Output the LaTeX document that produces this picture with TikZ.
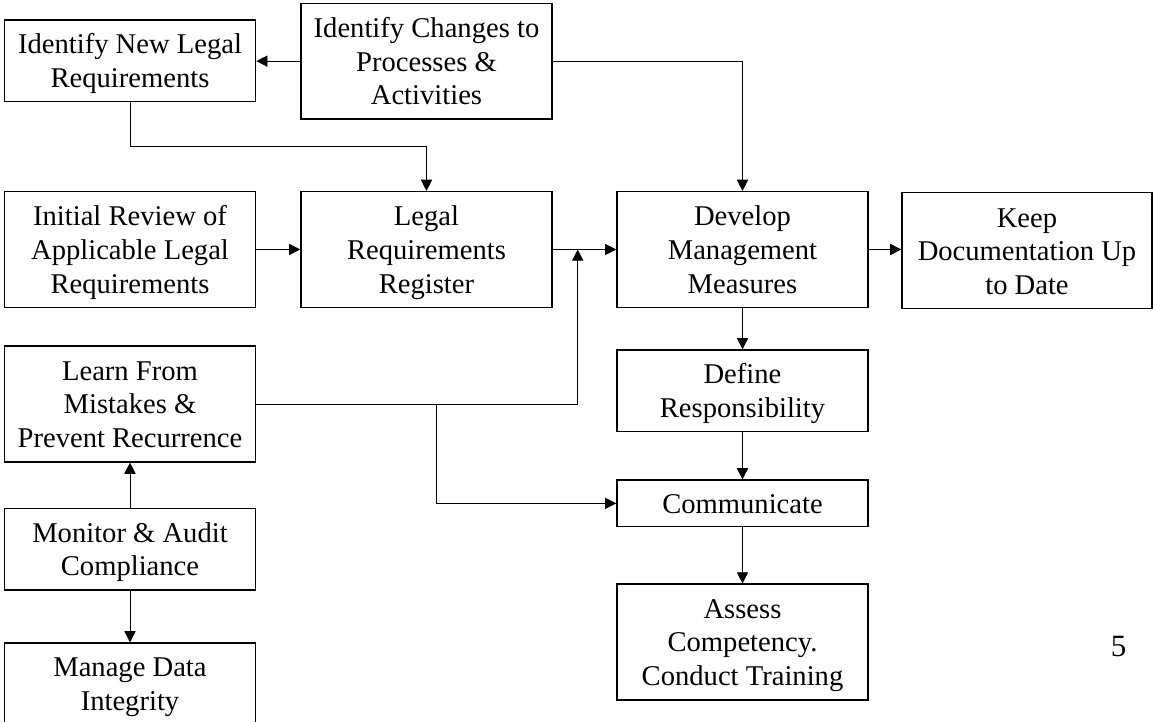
\documentclass[tikz,border=0pt]{standalone}
\usepackage{fontspec}
\setmainfont{Liberation Serif}
\usetikzlibrary{arrows.meta}
\newcommand{\boxfont}{\fontsize{14.3}{16.8}\selectfont}
\newcommand{\tb}[1]{\raisebox{-1.6pt}[\height][\depth]{\begin{tabular}{@{}c@{}}#1\end{tabular}}}
\begin{document}
\begin{tikzpicture}[x=0.5pt,y=-0.5pt,
  box/.style={draw, line width=0.65pt, align=center, inner sep=0pt,
    minimum width=125.6pt, font=\boxfont},
  hs/.style={minimum height=23.35pt},
  hm/.style={minimum height=40.85pt},
  hl/.style={minimum height=57.9pt},
  conn/.style={line width=0.45pt, -{Triangle[length=5.6pt,width=5.6pt]}},
  plain/.style={line width=0.45pt}]
\useasboundingbox (0,0) rectangle (1153,722);
% boxes
\node[box,hm] (newlegal) at (130,60.85) {\tb{Identify New Legal\\Requirements}};
\node[box,hl] (changes) at (426.5,61.15) {\tb{Identify Changes to\\Processes \&\\Activities}};
\node[box,hl] (initial) at (130,249.5) {\tb{Initial Review of\\Applicable Legal\\Requirements}};
\node[box,hl] (register) at (426.5,249.5) {\tb{Legal\\Requirements\\Register}};
\node[box,hl] (develop) at (742.5,249.5) {\tb{Develop\\Management\\Measures}};
\node[box,hl,minimum width=125pt] (keep) at (1027,250.7) {\tb{Keep\\Documentation Up\\to Date}};
\node[box,hl] (learn) at (130,404) {\tb{Learn From\\Mistakes \&\\Prevent Recurrence}};
\node[box,hm] (monitor) at (130,549.2) {\tb{Monitor \& Audit\\Compliance}};
\node[box,hm] (manage) at (130,683.85) {\tb{Manage Data\\Integrity}};
\node[box,hm] (define) at (742.5,390.85) {\tb{Define\\Responsibility}};
\node[box,hs] (communicate) at (742.5,503.35) {\tb{Communicate}};
\node[box,hl] (assess) at (742.5,642) {\tb{Assess\\Competency.\\Conduct Training}};
\node[font=\fontsize{15.5}{18}\selectfont, inner sep=0pt] (pagenum) at (1118.5,646.7) {5};
% bend coordinates
\coordinate (b1) at (130,146.7);
\coordinate (j1) at (577.7,249.5);
\coordinate (j2) at (436,404);
% connectors
\draw[conn] (changes.west) -- (newlegal.east |- changes.west);
\draw[conn] (newlegal.south) -- (b1) -| (register.north);
\draw[conn] (changes.east) -| (develop.north);
\draw[conn] (initial.east) -- (register.west);
\draw[conn] (register.east) -- (develop.west);
\draw[conn] (develop.east) -- (develop.east -| keep.west);
\draw[conn] (learn.east) -| (j1);
\draw[conn] (j2) |- (communicate.west);
\draw[conn] (develop.south) -- (define.north);
\draw[conn] (define.south) -- (communicate.north);
\draw[conn] (communicate.south) -- (assess.north);
\draw[conn] (monitor.north) -- (learn.south);
\draw[conn] (monitor.south) -- (manage.north);
\end{tikzpicture}
\end{document}
